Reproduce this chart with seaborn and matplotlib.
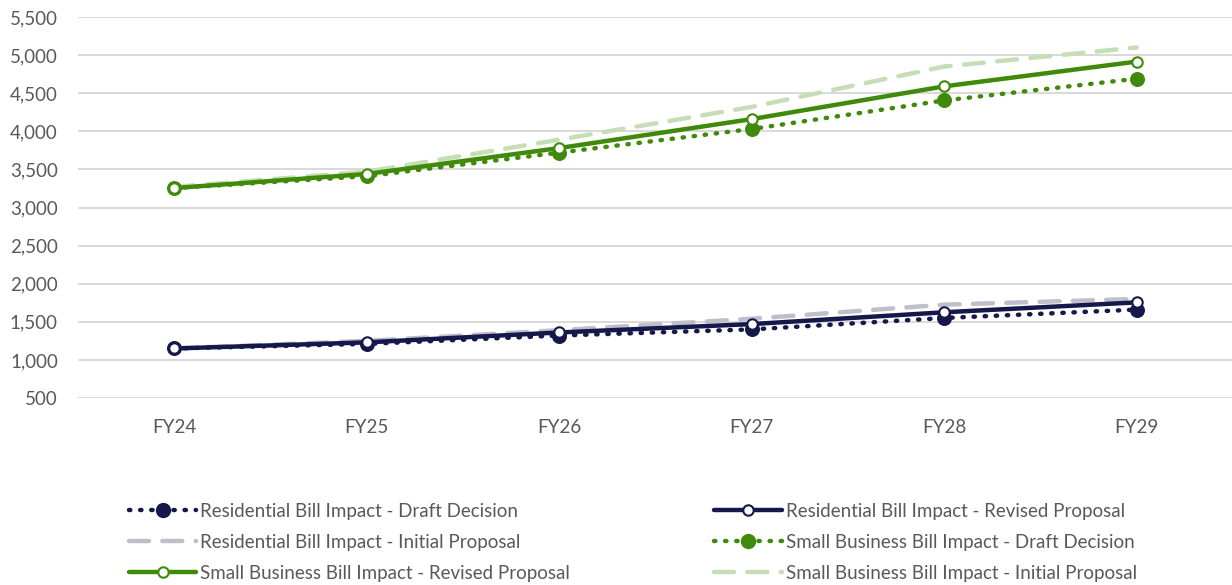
import matplotlib
matplotlib.use("Agg")
import matplotlib.pyplot as plt
import seaborn as sns
import pandas as pd
from matplotlib.lines import Line2D

years = ["FY24", "FY25", "FY26", "FY27", "FY28", "FY29"]
res_draft = [1150, 1210, 1320, 1400, 1550, 1660]
res_revised = [1150, 1230, 1360, 1470, 1625, 1755]
res_initial = [1150, 1250, 1390, 1540, 1725, 1800]
sb_draft = [3255, 3410, 3720, 4030, 4405, 4690]
sb_revised = [3255, 3440, 3780, 4160, 4590, 4915]
sb_initial = [3270, 3470, 3890, 4320, 4850, 5100]
yticks = list(range(500, 5501, 500))

NAVY = "#14184a"
GREY = "#bfbfcb"
GREEN = "#3f8a0a"
LGREEN = "#c5deb5"
TXT = "#595959"

sns.set_theme(style="white")
plt.rcParams["font.family"] = ["Lato", "DejaVu Sans"]

fig = plt.figure(figsize=(12.32, 5.85), dpi=100)
ax = fig.add_axes([78/1232, 1 - 398/585, (1233-78)/1232, (398-17)/585])

series = [
    ("Residential Bill Impact - Draft Decision", res_draft, dict(color=NAVY, lw=3.2, ls=(0, (0.3, 2.2)), dash_capstyle="round", marker="o", ms=10, mfc=NAVY, mec=NAVY), 3),
    ("Residential Bill Impact - Revised Proposal", res_revised, dict(color=NAVY, lw=3.2, ls="-", marker="o", ms=7.5, mfc="white", mec=NAVY, mew=1.5), 4),
    ("Residential Bill Impact - Initial Proposal", res_initial, dict(color=GREY, lw=3.2, ls=(0, (4.5, 3)), dash_capstyle="round"), 2),
    ("Small Business Bill Impact - Draft Decision", sb_draft, dict(color=GREEN, lw=3.2, ls=(0, (0.3, 2.2)), dash_capstyle="round", marker="o", ms=10, mfc=GREEN, mec=GREEN), 3),
    ("Small Business Bill Impact - Revised Proposal", sb_revised, dict(color=GREEN, lw=3.2, ls="-", marker="o", ms=7.5, mfc="white", mec=GREEN, mew=1.5), 4),
    ("Small Business Bill Impact - Initial Proposal", sb_initial, dict(color=LGREEN, lw=3.2, ls=(0, (4.5, 3)), dash_capstyle="round"), 2),
]

handles = {}
for label, vals, kw, z in series:
    df = pd.DataFrame({"year": years, "value": vals})
    sns.lineplot(data=df, x="year", y="value", ax=ax, zorder=z, legend=False, **kw)
    handles[label] = Line2D([0], [0], **kw)

ax.set_xlim(-0.5, len(years) - 0.5)
ax.set_ylim(500, 5500)
ax.set_yticks(yticks)
ax.set_yticklabels([f"{v:,}" for v in yticks])
ax.set_xlabel("")
ax.set_ylabel("")
ax.grid(axis="y", color="#d0d0d0", lw=1.1)
ax.grid(axis="x", visible=False)
for s in ax.spines.values():
    s.set_visible(False)
ax.tick_params(axis="y", length=0, pad=14.5, labelsize=13.5, labelcolor=TXT)
ax.tick_params(axis="x", length=0, pad=15, labelsize=13.5, labelcolor=TXT)

order = [
    "Residential Bill Impact - Draft Decision",
    "Residential Bill Impact - Initial Proposal",
    "Small Business Bill Impact - Revised Proposal",
    "Residential Bill Impact - Revised Proposal",
    "Small Business Bill Impact - Draft Decision",
    "Small Business Bill Impact - Initial Proposal",
]
leg = fig.legend([handles[k] for k in order], order, ncol=2, loc="upper left",
                 bbox_to_anchor=(112/1232, 1 - 486/585), frameon=False,
                 fontsize=13.5, labelcolor=TXT, handlelength=3.6, handletextpad=0.2,
                 columnspacing=7.7, labelspacing=0.75)

fig.savefig("out.png", dpi=100)
